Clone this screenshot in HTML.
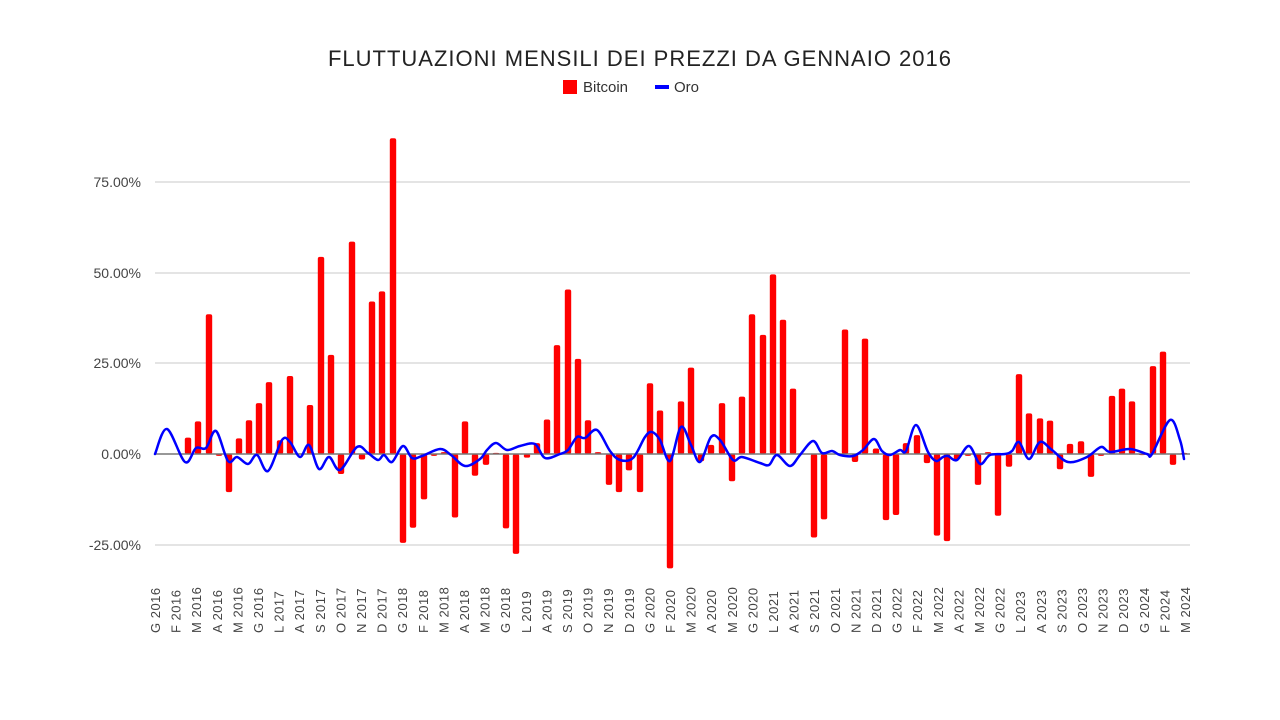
<!DOCTYPE html>
<html><head><meta charset="utf-8"><style>
body{margin:0;background:#fff;}
svg{display:block;font-family:"Liberation Sans",sans-serif;}
</style></head><body>
<svg id="s" width="1280" height="720" xmlns="http://www.w3.org/2000/svg">
<rect width="1280" height="720" fill="#fff"/>
<text x="640" y="66" text-anchor="middle" font-size="22" fill="#222" letter-spacing="1">FLUTTUAZIONI MENSILI DEI PREZZI DA GENNAIO 2016</text>
<rect x="563" y="80" width="14" height="14" fill="#ff0000"/>
<text x="583" y="92" font-size="15" fill="#333">Bitcoin</text>
<rect x="655" y="85" width="14" height="4" fill="#0000ff"/>
<text x="674" y="92" font-size="15" fill="#333">Oro</text>
<g stroke="#dcdcdc" stroke-width="1.5">
<line x1="155" x2="1190" y1="182" y2="182"/>
<line x1="155" x2="1190" y1="273" y2="273"/>
<line x1="155" x2="1190" y1="363" y2="363"/>
<line x1="155" x2="1190" y1="545" y2="545"/>
</g>
<g font-size="14" fill="#444" text-anchor="end">
<text x="141" y="187">75.00%</text>
<text x="141" y="278">50.00%</text>
<text x="141" y="368">25.00%</text>
<text x="141" y="459">0.00%</text>
<text x="141" y="550">-25.00%</text>
</g>
<g id="bars" fill="#ff0000"></g>
<line x1="155" x2="1190" y1="454" y2="454" stroke="#777" stroke-width="1.5"/>
<path id="gold" fill="none" stroke="#0000ff" stroke-width="2.5" stroke-linejoin="round" stroke-linecap="round"/>
<g id="xl" font-size="13" fill="#444"></g>
</svg>
<script>
var b=[[188,4.5],[198,9],[209,38.5],[219,-0.5],[229,-10.5],[239,4.3],[249,9.3],[259,14],[269,19.8],[280,3.8],[290,21.5],[310,13.5],[321,54.3],[331,27.3],[341,-5.5],[352,58.5],[362,-1.5],[372,42],[382,44.8],[393,87],[403,-24.5],[413,-20.3],[424,-12.5],[434,-0.5],[444,0.5],[455,-17.5],[465,9],[475,-6],[486,-3],[496,0.3],[506,-20.5],[516,-27.5],[527,-1],[537,3],[547,9.5],[557,30],[568,45.3],[578,26.2],[588,9.3],[598,0.5],[609,-8.5],[619,-10.5],[629,-4.5],[640,-10.5],[650,19.5],[660,12],[670,-31.5],[681,14.5],[691,23.8],[701,-2],[711,2.5],[722,14],[732,-7.5],[742,15.8],[752,38.5],[763,32.8],[773,49.5],[783,37],[793,18],[814,-23],[824,-18],[845,34.3],[855,-2.2],[865,31.8],[876,1.5],[886,-18.2],[896,-16.8],[906,3],[917,5.2],[927,-2.5],[937,-22.5],[947,-24],[957,-1.5],[968,-0.5],[978,-8.5],[988,0.5],[998,-17],[1009,-3.5],[1019,22],[1029,11.2],[1040,9.8],[1050,9.2],[1060,-4.2],[1070,2.8],[1081,3.5],[1091,-6.3],[1101,-0.5],[1112,16],[1122,18],[1132,14.5],[1142,-0.3],[1153,24.2],[1163,28.2],[1173,-3],[1184,0.3]];
var ns="http://www.w3.org/2000/svg",g=document.getElementById("bars"),k=3.63;
b.forEach(function(d){var h=Math.abs(d[1])*k,y=d[1]>0?454-h:454;var r=document.createElementNS(ns,"rect");
r.setAttribute("x",d[0]-3.2);r.setAttribute("y",y);r.setAttribute("width",6.4);r.setAttribute("height",Math.max(h,1));r.setAttribute("rx",2);g.appendChild(r);});
var p=[[155,454],[167,429],[185,462],[196,448],[206,448],[216,431],[228,461],[237,457],[248,464],[257,455],[268,471],[282,440],[290,442],[300,457],[309,445],[319,469],[329,457],[340,470],[357,447],[368,453],[378,460],[384,455],[392,462],[403,446],[412,458],[422,456],[440,449],[451,455],[465,466],[480,459],[487,450],[496,443],[507,450],[520,446],[535,444],[545,458],[560,454],[568,450],[577,437],[585,438],[597,430],[610,451],[620,460],[633,458],[645,437],[652,432],[660,440],[670,461],[681,427],[691,445],[700,462],[711,437],[720,440],[733,460],[742,457],[760,463],[769,465],[777,455],[790,466],[800,455],[813,441],[822,453],[832,451],[840,455],[853,456],[863,450],[874,439],[882,451],[890,455],[900,450],[906,451],[916,425],[928,452],[936,461],[943,457],[948,456],[957,460],[969,446],[980,464],[990,455],[1005,454],[1012,451],[1019,442],[1029,459],[1040,442],[1052,450],[1068,462],[1087,457],[1101,447],[1110,452],[1130,449],[1147,454],[1152,454],[1170,420],[1180,440],[1184,459]];
var s="M"+p[0][0]+","+p[0][1];
for(var i=0;i<p.length-1;i++){var p0=p[Math.max(i-1,0)],p1=p[i],p2=p[i+1],p3=p[Math.min(i+2,p.length-1)];
s+=" C"+(p1[0]+(p2[0]-p0[0])/6)+","+(p1[1]+(p2[1]-p0[1])/6)+" "+(p2[0]-(p3[0]-p1[0])/6)+","+(p2[1]-(p3[1]-p1[1])/6)+" "+p2[0]+","+p2[1];}
document.getElementById("gold").setAttribute("d",s);
var A=["G","F","M","A","M","G"],B=["L","A","S","O","N","D"],L=[];
for(var y=2016;y<=2023;y++){var arr=(y%2==0)?A:B;arr.forEach(function(m){L.push(m+" "+y);});}
["G","F","M"].forEach(function(m){L.push(m+" 2024");});
var xl=document.getElementById("xl");
L.forEach(function(t,i){var x=155+i*20.6+5;var e=document.createElementNS(ns,"text");e.setAttribute("transform","translate("+x+",633) rotate(-90)");e.setAttribute("letter-spacing","0.5");e.textContent=t;xl.appendChild(e);});
</script>
</body></html>
